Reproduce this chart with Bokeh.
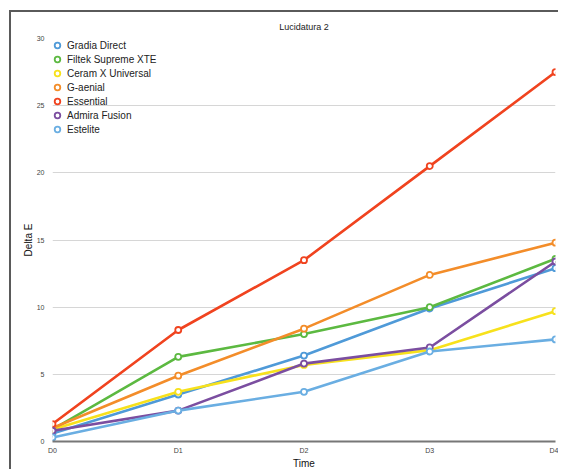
import numpy as np
from bokeh.plotting import figure
from bokeh.models import Legend, LegendItem, FixedTicker, Range1d
from bokeh.embed import file_html
from bokeh.resources import INLINE

times = ["D0", "D1", "D2", "D3", "D4"]
series_names = ["Gradia Direct", "Filtek Supreme XTE", "Ceram X Universal",
                "G-aenial", "Essential", "Admira Fusion", "Estelite"]
gradia = [0.6, 3.5, 6.4, 9.9, 12.9]
filtek = [0.9, 6.3, 8.0, 10.0, 13.6]
ceramx = [0.9, 3.7, 5.7, 6.8, 9.7]
gaenial = [1.0, 4.9, 8.4, 12.4, 14.8]
essential = [1.3, 8.3, 13.5, 20.5, 27.5]
admira = [0.8, 2.3, 5.8, 7.0, 13.4]
estelite = [0.3, 2.3, 3.7, 6.7, 7.6]
y_ticks = [0, 5, 10, 15, 20, 25, 30]

colors = ["#4f9ad8", "#5cb941", "#f7e11c", "#f38d2a", "#f0431f", "#7b4ea0", "#6aaee2"]
values = [gradia, filtek, ceramx, gaenial, essential, admira, estelite]

FONT = "Liberation Sans"
x = np.arange(len(times))

p = figure(width=549, height=459, output_backend="svg", toolbar_location=None,
           x_range=Range1d(0, len(times) - 1), y_range=Range1d(0, 30),
           min_border_left=41, min_border_right=5, min_border_top=26,
           min_border_bottom=30, title="Lucidatura 2")
p.styles = {"margin-left": "9px", "margin-top": "10px",
            "border-left": "2px solid #5a5a5a", "border-top": "2px solid #5a5a5a"}

p.title.align = "center"
p.title.text_font = FONT
p.title.text_font_size = "9px"
p.title.text_font_style = "normal"
p.title.text_color = "#222222"
p.title.offset = 0
p.title.standoff = 14

p.outline_line_color = None
p.background_fill_color = "white"
p.border_fill_color = "white"

p.xgrid.grid_line_color = None
p.ygrid.grid_line_color = "#d6d6d6"
p.ygrid.grid_line_width = 1.2
p.ygrid.ticker = FixedTicker(ticks=y_ticks)

p.xaxis.ticker = FixedTicker(ticks=list(x))
p.xaxis.major_label_overrides = {int(i): t for i, t in zip(x, times)}
p.xaxis.axis_line_color = "#777777"
p.xaxis.axis_line_width = 2
p.xaxis.major_tick_line_color = None
p.xaxis.minor_tick_line_color = None
p.xaxis.major_tick_out = 0
p.xaxis.major_tick_in = 0
p.xaxis.minor_tick_out = 0
p.xaxis.major_label_text_font = FONT
p.xaxis.major_label_text_font_size = "7px"
p.xaxis.major_label_text_color = "#444444"
p.xaxis.major_label_standoff = 5
p.xaxis.axis_label = "Time"
p.xaxis.axis_label_text_font = FONT
p.xaxis.axis_label_text_font_size = "10px"
p.xaxis.axis_label_text_font_style = "normal"
p.xaxis.axis_label_text_color = "#111111"
p.xaxis.axis_label_standoff = 1

p.yaxis.ticker = FixedTicker(ticks=y_ticks)
p.yaxis.axis_line_color = None
p.yaxis.major_tick_line_color = None
p.yaxis.minor_tick_line_color = None
p.yaxis.major_tick_out = 0
p.yaxis.major_tick_in = 0
p.yaxis.minor_tick_out = 0
p.yaxis.major_label_text_font = FONT
p.yaxis.major_label_text_font_size = "7px"
p.yaxis.major_label_text_color = "#444444"
p.yaxis.major_label_standoff = 8
p.yaxis.axis_label = "Delta E"
p.yaxis.axis_label_text_font = FONT
p.yaxis.axis_label_text_font_size = "10px"
p.yaxis.axis_label_text_font_style = "normal"
p.yaxis.axis_label_text_color = "#111111"
p.yaxis.axis_label_standoff = 0

items = []
for name, vals, c in zip(series_names, values, colors):
    p.line(x, vals, line_color=c, line_width=2.6)
    r = p.scatter(x, vals, marker="circle", size=6, fill_color="white",
                  line_color=c, line_width=1.8)
    items.append(LegendItem(label=name, renderers=[r]))

legend = Legend(items=items, location=(-2, 305))
legend.background_fill_alpha = 0
legend.border_line_color = None
legend.margin = 0
legend.padding = 0
legend.spacing = 0
legend.glyph_width = 14
legend.glyph_height = 14
legend.label_height = 14
legend.label_standoff = 3
legend.label_text_font = FONT
legend.label_text_font_size = "10px"
legend.label_text_color = "#222222"
p.add_layout(legend)

open("out.html", "w").write(file_html(p, INLINE))
